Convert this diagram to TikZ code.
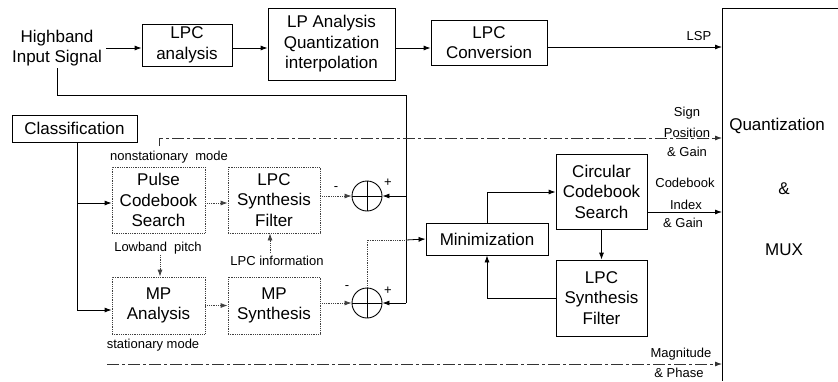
\documentclass[tikz,border=0pt]{standalone}
\usepackage{fontspec}
\setmainfont{Liberation Sans}
\usetikzlibrary{arrows.meta}
\begin{document}
\begin{tikzpicture}[x=1pt,y=-1pt,
  big/.style={font=\fontsize{17}{20.5}\selectfont, align=center, inner sep=0pt},
  box/.style={big, draw, line width=0.8pt},
  dbox/.style={big, draw=black!75, densely dotted, line width=0.8pt},
  lab/.style={font=\fontsize{13}{15}\selectfont, inner sep=0pt},
  ln/.style={line width=0.8pt},
  arr/.style={ln, -{Latex[length=7pt,width=5pt]}},
  dln/.style={ln, densely dotted, draw=black!75},
  darr/.style={dln, -{Latex[length=7pt,width=5pt]}},
  dsh/.style={ln, dash pattern=on 12pt off 3pt on 3pt off 3pt, draw=black!80},
  summer/.style={circle, draw, line width=0.9pt, minimum size=30pt, inner sep=0pt}
]
\useasboundingbox (0,0) rectangle (838,381);

% top chain
\node[big] (hb) at (57,48) {Highband\\Input Signal};
\node[box, minimum width=90pt, minimum height=42pt] (lpca) at (187,45) {LPC\\analysis};
\node[box, minimum width=127pt, minimum height=72pt] (lpaq) at (331.5,44) {LP Analysis\\Quantization\\interpolation};
\node[box, minimum width=116pt, minimum height=45pt] (lpcc) at (489,42.5) {LPC\\Conversion};

% MUX box
\coordinate (mt) at (722,8);
\coordinate (mb) at (722,381);
\draw[ln] (838,8) -- (mt) -- (mb);
\node[big] (q) at (777,126) {Quantization};
\node[big] (amp) at (784,189) {\&};
\node[big] (mux) at (784,250) {MUX};

\draw[arr] (106,48) -- (lpca.west |- 0,48);
\draw[arr] (lpca.east |- 0,48) -- (lpaq.west |- 0,48);
\draw[arr] (lpaq.east |- 0,48) -- (lpcc.west |- 0,48);
\draw[arr] (lpcc.east |- 0,47) -- (mt |- 0,47);
\node[lab] (lsp) at (699,36) {LSP};

% classification
\node[box, minimum width=125pt, minimum height=27pt] (cls) at (74.5,128.5) {Classification};

% mode boxes
\node[dbox, minimum width=93pt, minimum height=66pt] (pcs) at (158.5,200) {Pulse\\Codebook\\Search};
\node[dbox, minimum width=92pt, minimum height=66pt] (lsf1) at (274,200) {LPC\\Synthesis\\Filter};
\node[dbox, minimum width=93pt, minimum height=57pt] (mpa) at (158.5,305.5) {MP\\Analysis};
\node[dbox, minimum width=92pt, minimum height=57pt] (mps) at (274,305.5) {MP\\Synthesis};

\node[lab] (nsm) at (169,157) {nonstationary\ \ mode};
\node[lab] (lbp) at (158,248) {Lowband\ \ pitch};
\node[lab] (lpi) at (277,261) {LPC information};
\node[lab] (stm) at (153,345) {stationary mode};

% summers
\node[summer] (s1) at (367,196) {};
\draw[line width=0.9pt] (s1.north) -- (s1.south) (s1.west) -- (s1.east);
\node[summer] (s2) at (367,303) {};
\draw[line width=0.9pt] (s2.north) -- (s2.south) (s2.west) -- (s2.east);
\node[lab] at (336,189) {-};
\node[lab] at (388,183) {+};
\node[lab] at (347,288) {-};
\node[lab] at (388,291) {+};

% right blocks
\node[box, minimum width=122pt, minimum height=32pt] (mini) at (487,239) {Minimization};
\node[box, minimum width=91pt, minimum height=75pt] (ccs) at (601.5,191.5) {Circular\\Codebook\\Search};
\node[box, minimum width=91pt, minimum height=76pt] (lsf2) at (601.5,298) {LPC\\Synthesis\\Filter};

% input signal feed
\coordinate (i1) at (57,68);
\coordinate (i2) at (57,95);
\coordinate (i3) at (406,95);
\coordinate (i4) at (406,303);
\draw[ln] (i1) -- (i2) -- (i3) -- (i4);
\draw[arr] (i3 |- s1.east) -- (s1.east);
\draw[arr] (i4) -- (s2.east);

% classification feed
\coordinate (c1) at (77,310);
\draw[ln] (cls.south -| 77,0) -- (c1);
\draw[arr] (77,203) -- (pcs.west |- 0,203);
\draw[arr] (c1) -- (mpa.west |- c1);

% sign position line
\coordinate (sp0) at (159,146);
\coordinate (sp1) at (159,138);
\draw[dsh, -{Latex[length=7pt,width=5pt]}] (sp0) -- (sp1) -- (mt |- sp1);
\node[lab] at (687,113) {Sign};
\node[lab] at (687,133) {Position};
\node[lab] at (687,152) {\& Gain};

% mode connections
\draw[darr] (pcs.east |- 0,203) -- (lsf1.west |- 0,203);
\draw[darr] (lsf1.east |- s1) -- (s1.west);
\draw[darr] (160,255) -- (mpa.north -| 160,0);
\draw[darr] (270,253) -- (lsf1.south -| 270,0);
\draw[darr] (mpa.east) -- (mps.west);
\draw[darr] (mps.east |- s2) -- (s2.west);

% summer output to minimization
\coordinate (m1) at (367,240);
\coordinate (m2) at (406,240);
\draw[dln] (s2.north) -- (m1) -- (m2);
\draw[arr] (m2) -- (mini.west);

% magnitude & phase
\coordinate (mp0) at (107,364);
\draw[dsh, -{Latex[length=7pt,width=5pt]}] (mp0) -- (mt |- mp0);
\node[lab] at (681,354) {Magnitude};
\node[lab] at (679,373) {\& Phase};

% right loop
\coordinate (r1) at (487,192);
\draw[arr] (mini.north) -- (r1) -- (ccs.west |- r1);
\draw[arr] (ccs.east |- 0,212) -- (mt |- 0,212);
\node[lab] at (685,183) {Codebook};
\node[lab] at (686,205) {Index};
\node[lab] at (683,223) {\& Gain};
\draw[arr] (ccs.south) -- (lsf2.north);
\coordinate (r2) at (487,298);
\draw[arr] (lsf2.west) -- (r2) -- (mini.south);
\end{tikzpicture}
\end{document}
